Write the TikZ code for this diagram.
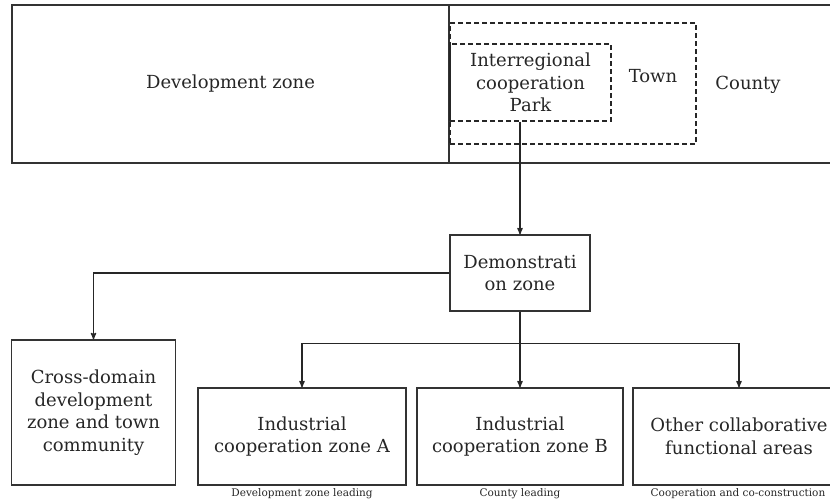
\documentclass[tikz,border=0pt]{standalone}
\usepackage{fontspec}
\setmainfont{DejaVu Serif}
\usetikzlibrary{arrows,positioning}

\begin{document}
\begin{tikzpicture}[x=1pt,y=-1pt,>=stealth',line width=1.3pt,
                    every node/.style={text=black!85},
                    zone/.style={draw=black!80,rectangle,align=center,font=\fontsize{18}{22.5}\selectfont},
                    dashzone/.style={zone,dash pattern=on 5pt off 3pt,draw=black!85},
                    note/.style={font=\fontsize{10.5}{12}\selectfont},
                    link/.style={->,draw=black!85}]
   \useasboundingbox (0,0) rectangle (830,503);
   % top band
   \node[zone,minimum width=437,minimum height=158] (devzone) at (230.5,84) {Development zone};
   \node[zone,minimum width=390,minimum height=158] (county) at (644,84) {};
   \node[zone,draw=none] (countyText) at (748,85) {County};
   \node[dashzone,minimum width=246,minimum height=121] (town) at (573,83.5) {};
   \node[zone,draw=none] (townText) at (653,76) {Town};
   \node[dashzone,minimum width=161,minimum height=77] (park) at (530.5,82.5)
        {Interregional\\cooperation\\Park};
   % middle
   \node[zone,minimum width=140,minimum height=76] (demo) at (520,273) {Demonstrati\\on zone};
   \node[zone,minimum width=164,minimum height=145] (cross) at (93.5,412.5)
        {Cross-domain\\development\\zone and town\\community};
   % bottom row
   \node[zone,minimum width=208,minimum height=97] (zoneA) at (302,436.5) {Industrial\\cooperation zone A};
   \node[zone,minimum width=206,minimum height=97] (zoneB) at (520,436.5) {Industrial\\cooperation zone B};
   \node[zone,minimum width=212,minimum height=97] (other) at (739,436.5) {Other collaborative\\functional areas};
   \node[note] (leadA) at (302,494) {Development zone leading};
   \node[note] (leadB) at (520,494) {County leading};
   \node[note] (leadC) at (738,494) {Cooperation and co-construction};
   % connectors
   \draw[link] (demo.north |- park.south) -- (demo.north);
   \draw[link] (demo.west) -| (cross.north);
   \draw[draw=black!85] (demo.south) -- ++(0,32) coordinate (split);
   \draw[link] (split) -| (zoneA.north);
   \draw[link] (split) -- (zoneB.north);
   \draw[link] (split) -| (other.north);
\end{tikzpicture}
\end{document}
